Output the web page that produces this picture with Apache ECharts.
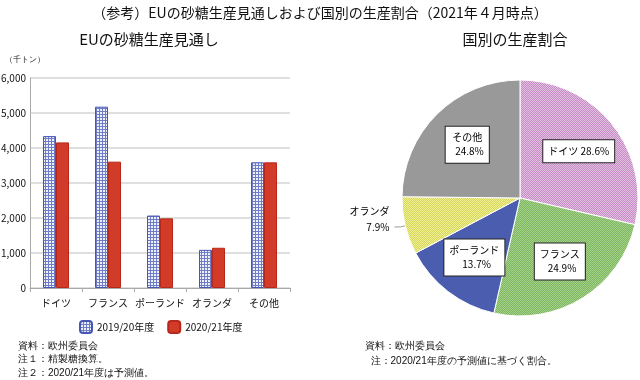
<!DOCTYPE html>
<html><head><meta charset="utf-8">
<script src="https://cdn.jsdelivr.net/npm/echarts@6/dist/echarts.min.js"></script>
<style>html,body{margin:0;padding:0;background:#fff}#c{width:640px;height:380px}</style>
</head><body><div id="c"></div>
<script>
var categories = ['ドイツ','フランス','ポーランド','オランダ','その他'];
var seriesNames = ['2019/20年度','2020/21年度'];
var values2019 = [4340, 5180, 2070, 1090, 3590];
var values2020 = [4160, 3610, 1990, 1150, 3590];
var yTicks = [0, 1000, 2000, 3000, 4000, 5000, 6000];
var pieNames = ['ドイツ','フランス','ポーランド','オランダ','その他'];
var pieShares = [28.6, 24.9, 13.7, 7.9, 24.8];

var FONT = '"Noto Sans CJK JP", "Noto Sans", sans-serif';

function gridPattern(bg, line, size){
  var c = document.createElement('canvas'); c.width = size; c.height = size;
  var g = c.getContext('2d'); g.fillStyle = bg; g.fillRect(0,0,size,size);
  g.fillStyle = line; g.fillRect(0,0,size,1); g.fillRect(0,0,1,size);
  return {image: c, repeat: 'repeat'};
}
function checker(a, b){
  var c = document.createElement('canvas'); c.width = 2; c.height = 2;
  var g = c.getContext('2d'); g.fillStyle = a; g.fillRect(0,0,2,2);
  g.fillStyle = b; g.fillRect(0,0,1,1); g.fillRect(1,1,1,1);
  return {image: c, repeat: 'repeat'};
}

var blueFill = gridPattern('#eef0fa', '#6f7cc8', 3);
var pieColors = [checker('#c58cc4','#e2c0e1'), checker('#7fb65d','#a3d28d'), '#4a5daf', checker('#d6d65a','#efef95'), '#999999'];

var pieData = pieNames.map(function(n,i){
  return {name: n, value: pieShares[i], itemStyle: {color: pieColors[i]}};
});

var boxLabel = {
  show: true, position: 'inside', color: '#000', fontSize: 10, fontFamily: FONT,
  backgroundColor: '#fff', borderColor: '#222', borderWidth: 1, padding: [4,5,4,5], lineHeight: 14,
  formatter: function(p){
    if (p.name === 'ドイツ') return p.name + ' ' + p.value.toFixed(1) + '%';
    return p.name + '\n  ' + p.value.toFixed(1) + '%';
  }
};

var labelData = pieNames.map(function(n,i){
  var d = {name: n, value: pieShares[i]};
  if (n === 'オランダ') d.label = {show: false};
  return d;
});

var mainPieData = pieData.map(function(d){
  if (d.name === 'オランダ') {
    d.label = {show: true, position: 'outside', color: '#000', fontSize: 10, fontFamily: FONT, lineHeight: 16,
      align: 'center', formatter: function(p){ return p.name + '\n' + p.value.toFixed(1) + '%'; }};
    d.labelLine = {show: true, length: 5, length2: 6, lineStyle: {color: '#999', width: 1}};
  }
  return d;
});

var chart = echarts.init(document.getElementById('c'), null, {renderer: 'canvas'});
chart.setOption({
  animation: false,
  textStyle: {fontFamily: FONT},
  title: [
    {text: '（参考）EUの砂糖生産見通しおよび国別の生産割合（2021年４月時点）', left: 'center', top: 1,
      textStyle: {fontSize: 14, fontWeight: 'normal', color: '#111', fontFamily: FONT}},
    {text: 'EUの砂糖生産見通し', left: 144, textAlign: 'center', top: 27,
      textStyle: {fontSize: 15, fontWeight: 'normal', color: '#111', fontFamily: FONT}},
    {text: '国別の生産割合', left: 510, textAlign: 'center', top: 27,
      textStyle: {fontSize: 15, fontWeight: 'normal', color: '#111', fontFamily: FONT}}
  ],
  legend: {
    data: seriesNames, left: 74, top: 315, itemWidth: 12, itemHeight: 12, itemGap: 13,
    textStyle: {fontSize: 10, color: '#111', fontFamily: FONT}
  },
  grid: {left: 30, right: 350, top: 78, bottom: 92, containLabel: false, outerBoundsMode: 'none'},
  xAxis: {
    type: 'category', data: categories,
    axisLine: {lineStyle: {color: '#aaa'}},
    axisTick: {show: true, length: 4, lineStyle: {color: '#aaa'}},
    axisLabel: {fontSize: 10, color: '#111', margin: 10, interval: 0}
  },
  yAxis: {
    type: 'value', min: yTicks[0], max: yTicks[yTicks.length-1], interval: 1000,
    axisLine: {show: true, lineStyle: {color: '#aaa'}},
    axisTick: {show: false},
    splitLine: {lineStyle: {color: '#d4d4d4', width: 1.5}},
    axisLabel: {fontSize: 10, color: '#111', margin: 4,
      formatter: function(v){ return v.toLocaleString('en-US'); }}
  },
  series: [
    {name: seriesNames[0], type: 'bar', data: values2019, barWidth: 13, barGap: '0%',
      itemStyle: {color: blueFill, borderColor: '#4656b5', borderWidth: 1}},
    {name: seriesNames[1], type: 'bar', data: values2020, barWidth: 13,
      itemStyle: {color: '#d23b27', borderColor: '#b7281a', borderWidth: 1}},
    {name: 'share', type: 'pie', center: [520, 198], radius: [0, 118], startAngle: 90, clockwise: true,
      data: mainPieData, label: {show: false}, labelLine: {show: false},
      labelLayout: {dy: -8, dx: 0},
      itemStyle: {borderColor: '#fff', borderWidth: 1}, emphasis: {disabled: true}, silent: true},
    {name: 'labels', type: 'pie', center: [520, 198], radius: [0, 144], startAngle: 90, clockwise: true,
      data: labelData, silent: true, label: boxLabel, labelLine: {show: false},
      itemStyle: {color: 'rgba(0,0,0,0)', borderWidth: 0}, emphasis: {disabled: true}, z: 5}
  ],
  graphic: [
    {type: 'text', left: 5, top: 56, style: {text: '（千トン）', fontSize: 8, fill: '#222', font: '8px ' + FONT}},
    {type: 'text', left: 18, top: 339, style: {text: '資料：欧州委員会\n注１：精製糖換算。\n注２：2020/21年度は予測値。', fontSize: 10, lineHeight: 13.5, fill: '#111', font: '10px ' + FONT}},
    {type: 'text', left: 365, top: 339, style: {text: '資料：欧州委員会\n  注：2020/21年度の予測値に基づく割合。', fontSize: 10, lineHeight: 15, fill: '#111', font: '10px ' + FONT}}
  ]
});
</script>
</body></html>
